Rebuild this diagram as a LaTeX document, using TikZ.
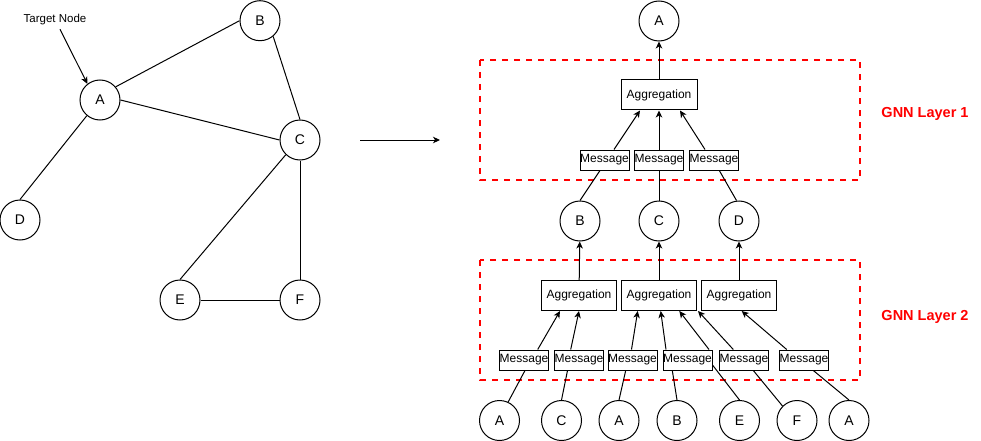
\documentclass[tikz,border=0pt]{standalone}
\usepackage{fontspec}
\setmainfont{Liberation Sans}
\usetikzlibrary{arrows.meta}

\begin{document}
\begin{tikzpicture}[x=1pt, y=-1pt,
  line width=1pt,
  vertex/.style={circle, draw, fill=white, minimum size=40pt, inner sep=0pt,
                 font=\fontsize{14}{16}\selectfont},
  msg/.style={draw, fill=white, minimum width=49pt, minimum height=20pt, inner sep=0pt,
              font=\fontsize{12}{14}\selectfont},
  aggbox/.style={draw, fill=white, minimum width=75pt, minimum height=30pt, inner sep=0pt,
                 font=\fontsize{12}{14}\selectfont},
  layerbox/.style={draw=red, line width=2pt, dash pattern=on 6pt off 6pt},
  layerlabel/.style={text=red, font=\fontsize{14.5}{17}\selectfont\bfseries},
  arr/.style={-{Stealth[length=7pt, width=6.5pt, inset=2pt]}}
]
\useasboundingbox (0,0) rectangle (981,441);

% ---------- input graph ----------
\node[vertex] (gA) at (100,100) {A};
\node[vertex] (gB) at (260,20.7) {B};
\node[vertex] (gC) at (300,140) {C};
\node[vertex] (gD) at (20,220) {D};
\node[vertex] (gE) at (180,300) {E};
\node[vertex] (gF) at (300,300) {F};
\node[font=\fontsize{11.5}{13}\selectfont] (target) at (55,20) {Target Node};

\draw (gA.40) -- (gB.west);
\draw (gA.east) -- (gC.west);
\draw (gA.230) -- (gD.north);
\draw (gB.-50) -- (gC.north);
\draw (gC.226) -- (gE.north);
\draw (gC) -- (gF);
\draw (gE) -- (gF);
\draw[arr] ([xshift=5pt]target.south) -- (gA.128);

% transition arrow
\coordinate (tfrom) at (360,140);
\coordinate (tto) at (440,140);
\draw[arr] (tfrom) -- (tto);

% ---------- computation tree ----------
\draw[layerbox] (480,60) rectangle (860,180);
\draw[layerbox] (480,260) rectangle (860,380);
\node[layerlabel] (lab1) at (925,114) {GNN Layer 1};
\node[layerlabel] (lab2) at (925,317) {GNN Layer 2};

% root
\node[vertex] (rA) at (659,21) {A};
\node[aggbox, minimum width=76pt] (agg1) at (659,95) {Aggregation};
\node[msg] (m11) at (604.5,160) {Message};
\node[msg] (m12) at (659,160) {Message};
\node[msg] (m13) at (714,160) {Message};

% first hop neighbours
\node[vertex] (hB) at (580,221) {B};
\node[vertex] (hC) at (659,221) {C};
\node[vertex] (hD) at (739,221) {D};

% second layer aggregations and messages
\node[aggbox] (agg21) at (579,295.5) {Aggregation};
\node[aggbox] (agg22) at (659,295.5) {Aggregation};
\node[aggbox] (agg23) at (739,295.5) {Aggregation};
\node[msg] (m21) at (524,360) {Message};
\node[msg] (m22) at (579,360) {Message};
\node[msg] (m23) at (632.5,360) {Message};
\node[msg] (m24) at (687.5,360) {Message};
\node[msg] (m25) at (744,360) {Message};
\node[msg] (m26) at (804,360) {Message};

% second hop neighbours
\node[vertex] (sA1) at (499.5,420.5) {A};
\node[vertex] (sC)  at (561.5,420.5) {C};
\node[vertex] (sA2) at (619,420.5) {A};
\node[vertex] (sB)  at (677,420.5) {B};
\node[vertex] (sE)  at (739.5,420.5) {E};
\node[vertex] (sF)  at (797,420.5) {F};
\node[vertex] (sA3) at (849,420.5) {A};

% layer 1 connectors
\draw[arr] (agg1) -- (rA);
\draw[arr] ([xshift=9.5pt]m11.north) -- ([xshift=-19pt]agg1.south);
\draw[arr] (m12) -- (agg1);
\draw[arr] ([xshift=-9pt]m13.north) -- ([xshift=21pt]agg1.south);
\draw (hB.north) -- ([xshift=-4.5pt]m11.south);
\draw (hC) -- (m12);
\draw ([xshift=-2.5pt]hD.north) -- ([xshift=5.3pt]m13.south);

% layer 2 connectors
\draw[arr] (agg21) -- (hB);
\draw[arr] (agg22) -- (hC);
\draw[arr] (agg23) -- (hD);

\draw[arr] ([xshift=13.7pt]m21.north) -- ([xshift=-19pt]agg21.south);
\draw[arr] ([xshift=-8.3pt]m22.north) -- (agg21.south);
\draw[arr] ([xshift=-1pt]m23.north) -- ([xshift=-21.3pt]agg22.south);
\draw[arr] ([xshift=-21.5pt]m24.north) -- ([xshift=1.7pt]agg22.south);
\draw[arr] ([xshift=21.5pt]m24.north) -- ([xshift=20.3pt]agg22.south);
\draw[arr] ([xshift=-10.7pt]m25.north) -- ([xshift=39pt]agg22.south);
\draw[arr] ([xshift=-17.3pt]m26.north) -- ([xshift=2.7pt]agg23.south);

\draw (sA1.65) -- ([xshift=1pt]m21.south);
\draw (sC.north) -- ([xshift=-11.5pt]m22.south);
\draw (sA2.north) -- ([xshift=-6.8pt]m23.south);
\draw (sB.north) -- ([xshift=-15.2pt]m24.south);
\draw (sE.north) -- ([yshift=-5pt]m24.east);
\draw (sF.north west) -- ([xshift=9.3pt]m25.south);
\draw (sA3.north) -- ([xshift=9.3pt]m26.south);
\end{tikzpicture}
\end{document}
